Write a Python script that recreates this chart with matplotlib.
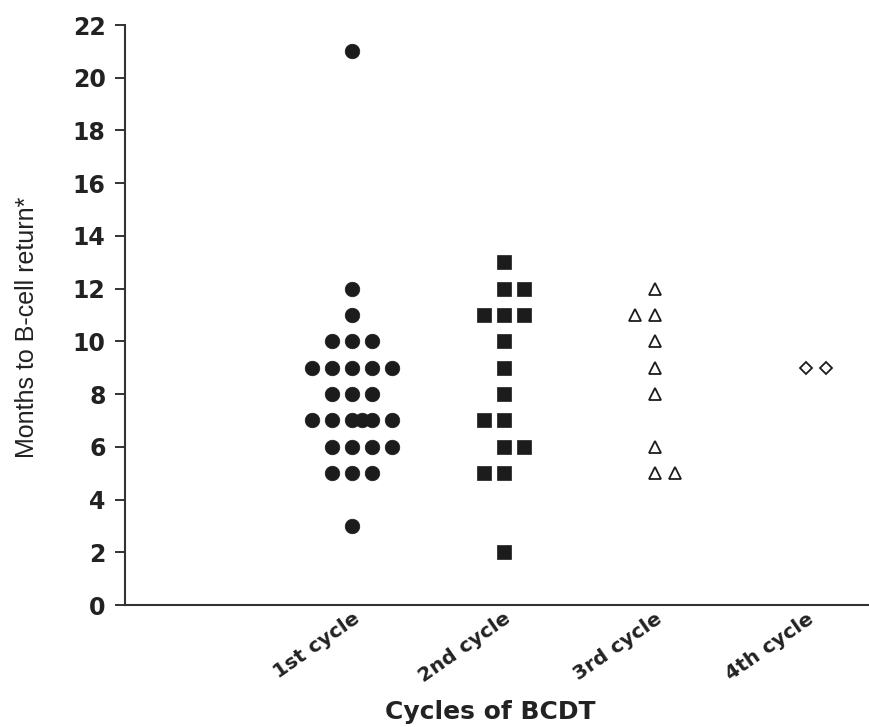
#!/usr/bin/env python3
# dot plot – months to B-cell return per BCDT cycle
import numpy as np
import matplotlib as mpl

mpl.use("Agg")
from matplotlib import pyplot as plt

mpl.rcParams["font.family"] = ["Liberation Sans", "DejaVu Sans"]

# ─── data ────────────────────────────────────────────────────────────
cycles = ["1st cycle", "2nd cycle", "3rd cycle", "4th cycle"]
cycle1 = [21, 12, 11, 10, 10, 10, 9, 9, 9, 9, 9, 8, 8, 8,
          7, 7, 7, 7, 7, 7, 6, 6, 6, 6, 5, 5, 5, 3]
cycle2 = [13, 12, 12, 11, 11, 11, 10, 9, 8, 7, 7, 6, 6, 5, 5, 2]
cycle3 = [12, 11, 11, 10, 9, 8, 6, 5, 5]
cycle4 = [9, 9]

groups = [cycle1, cycle2, cycle3, cycle4]
markers = ["o", "s", "^", "D"]
msizes = [10.5, 10, 8, 6]
filled = [True, True, False, False]
first_shift = [1, -1, 1, 1]  # side that even rows lean to (bottom-up)
STEP = 0.132
INK = "#1c1c1c"
BOLD = ["DejaVu Sans"]


def row_offsets(n, sign):
    """Prism-like horizontal spread of n equal values."""
    if n > 5:
        return list(np.arange(5) - 2) + [0.5] * (n - 5)
    off = np.arange(n) - (n - 1) / 2
    if n % 2 == 0:
        off = off + 0.5 * sign
    return list(off)


fig = plt.figure(figsize=(8.7, 7.27), dpi=100)
ax = fig.add_axes([0.1437, 0.1678, 0.8563, 0.7978])

for g, vals in enumerate(groups):
    sign = first_shift[g]
    xs, ys = [], []
    for v in sorted(set(vals)):
        n = vals.count(v)
        offs = row_offsets(n, sign)
        if n % 2 == 0 and n <= 5:
            sign = -sign
        xs += [g + o * STEP for o in offs]
        ys += [v] * n
    ax.plot(
        xs, ys, linestyle="none", marker=markers[g], markersize=msizes[g],
        markerfacecolor=INK if filled[g] else "white",
        markeredgecolor=INK, markeredgewidth=1.3 if not filled[g] else 0.5,
    )

ax.set_xlim(-1.5, 3.42)
ax.set_ylim(0, 22)
ax.set_yticks(np.arange(0, 23, 2))
ax.set_xticks(range(len(cycles)))
ax.set_xticklabels(cycles, rotation=35, ha="right", rotation_mode="anchor",
                   fontsize=14.5, fontweight="bold", color="#222222",
                   family=BOLD)
ax.tick_params(axis="x", length=0, pad=3)
ax.tick_params(axis="y", length=7, width=1.4, color="#333333",
               labelsize=17, pad=7, labelcolor="#222222")
for lbl in ax.get_yticklabels():
    lbl.set_fontweight("bold")
    lbl.set_family(BOLD)

for s in ["top", "right"]:
    ax.spines[s].set_visible(False)
for s in ["left", "bottom"]:
    ax.spines[s].set_linewidth(1.5)
    ax.spines[s].set_color("#333333")

ax.set_ylabel("Months to B-cell return*", fontsize=18, color="#222222")
ax.yaxis.set_label_coords(-0.115, 0.478)
ax.set_xlabel("Cycles of BCDT", fontsize=18, fontweight="bold",
              color="#222222", family=BOLD)
ax.xaxis.set_label_coords(0.49, -0.163)

fig.savefig("out.png", dpi=100)
